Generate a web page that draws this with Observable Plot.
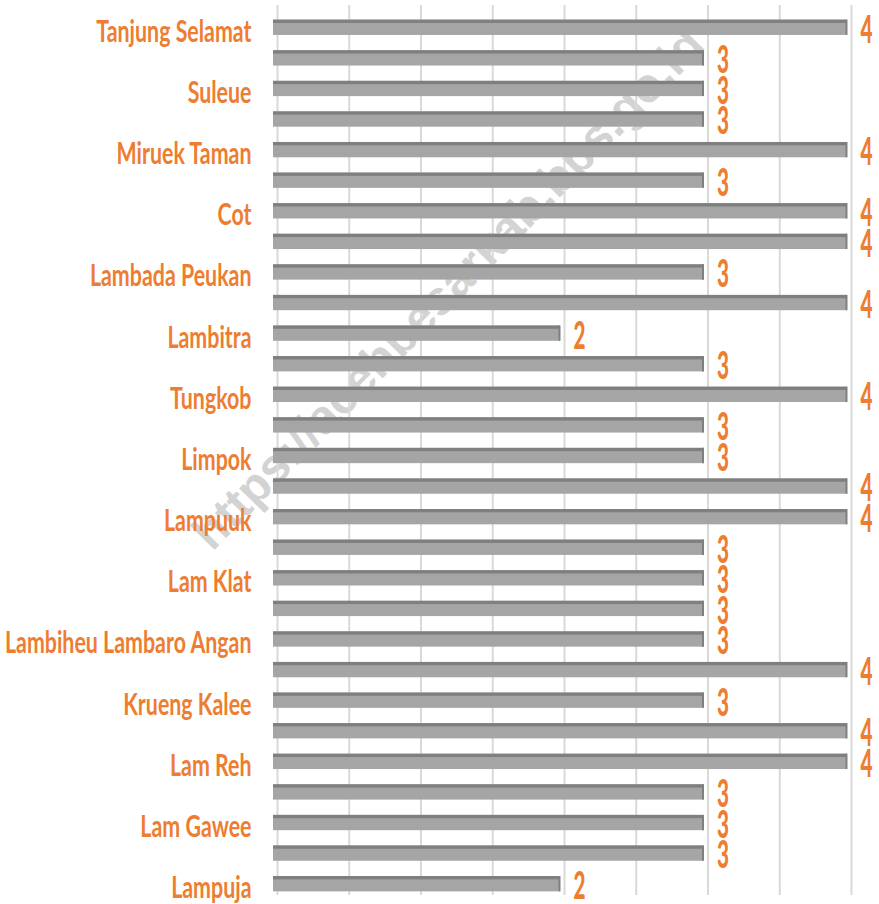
<!DOCTYPE html>
<html><head><meta charset="utf-8">
<script src="https://cdn.jsdelivr.net/npm/d3@7"></script>
<script src="https://cdn.jsdelivr.net/npm/@observablehq/plot@0.6"></script>
<style>body{margin:0;background:#fff} #chart svg{display:block}</style>
</head><body><div id="chart"></div>
<script>
// Villages, top to bottom (every other name is shown on the axis)
const villages = [
  "Tanjung Selamat","Tanjung Deah","Suleue","Siem","Miruek Taman","Miruek Lamreudeup",
  "Cot","Lambaro Sukon","Lambada Peukan","Lamtimpeung","Lambitra","Lamkeuneung",
  "Tungkob","Lamduro","Limpok","Gla Deyah","Lampuuk","Lam Asan","Lam Klat",
  "Lambiheu Siem","Lambiheu Lambaro Angan","Lieue","Krueng Kalee","Blang Krueng",
  "Lam Reh","Barabung","Lam Gawee","Gla Meunasah Baro","Lampuja"
];
const counts = [4,3,3,3,4,3,4,4,3,4,2,3,4,3,3,4,4,3,3,3,3,4,3,4,4,3,3,3,2];
const labelledVillages = [
  "Tanjung Selamat","Suleue","Miruek Taman","Cot","Lambada Peukan","Lambitra","Tungkob",
  "Limpok","Lampuuk","Lam Klat","Lambiheu Lambaro Angan","Krueng Kalee","Lam Reh","Lam Gawee","Lampuja"
];
const gridValues = [0,0.5,1,1.5,2,2.5,3,3.5,4];
const watermark = ["https://acehbesarkab.bps.go.id"];

const data = villages.map((name, i) => ({name, value: counts[i]}));
const orange = "#ed7d31";

const chart = Plot.plot({
  width: 879, height: 904,
  marginLeft: 273, marginRight: 32, marginTop: 12, marginBottom: 5,
  style: {fontFamily: "Lato, 'Open Sans', sans-serif", background: "#fff"},
  x: {domain: [0, 4], axis: null},
  y: {domain: villages, paddingInner: 0.5, paddingOuter: 0.25, round: false, axis: null},
  marks: [
    Plot.text(watermark, {frameAnchor: "middle", text: d => d, dx: -112, dy: -167, rotate: -45.6,
      fontSize: 48, fontWeight: "bold", fill: "#d3d3d3", fontFamily: "'Liberation Sans', Arial, sans-serif"}),
    Plot.ruleX(gridValues, {stroke: "#d9d9d9", strokeWidth: 2, dx: 4, insetTop: -7, insetBottom: 4}),
    Plot.barX(data, {x: "value", y: "name", fill: "#a5a5a5"}),
    Plot.barX(data, {x: "value", y: "name", fill: "#7f7f7f", insetBottom: 12}),
    Plot.tickX(data, {x: "value", y: "name", stroke: "#7f7f7f", strokeWidth: 2, dx: -1}),
    Plot.axisY({ticks: labelledVillages, tickSize: 0, tickPadding: 22, fontSize: 31,
      fontWeight: "bold", fill: orange, dy: 4, label: null}),
    Plot.text(data, {x: "value", y: "name", text: d => String(d.value), textAnchor: "start",
      dx: 13, dy: 3, fontSize: 37, fontWeight: 900, fill: orange})
  ]
});

// condense the text horizontally, keeping each label's anchor point fixed
function condense(nodes, s) {
  nodes.forEach(t => {
    const ax = parseFloat(t.getAttribute("x") || "0") || 0;
    const tr = t.getAttribute("transform") || "";
    t.setAttribute("transform", `${tr} translate(${ax},0) scale(${s},1) translate(${-ax},0)`);
  });
}
document.getElementById("chart").appendChild(chart);
condense(chart.querySelectorAll('[aria-label="y-axis tick label"] text'), 0.69);
chart.querySelectorAll('g[aria-label="text"]').forEach(g => {
  const texts = g.querySelectorAll("text");
  if (texts.length === counts.length) condense(texts, 0.56);
});
</script>
</body></html>
